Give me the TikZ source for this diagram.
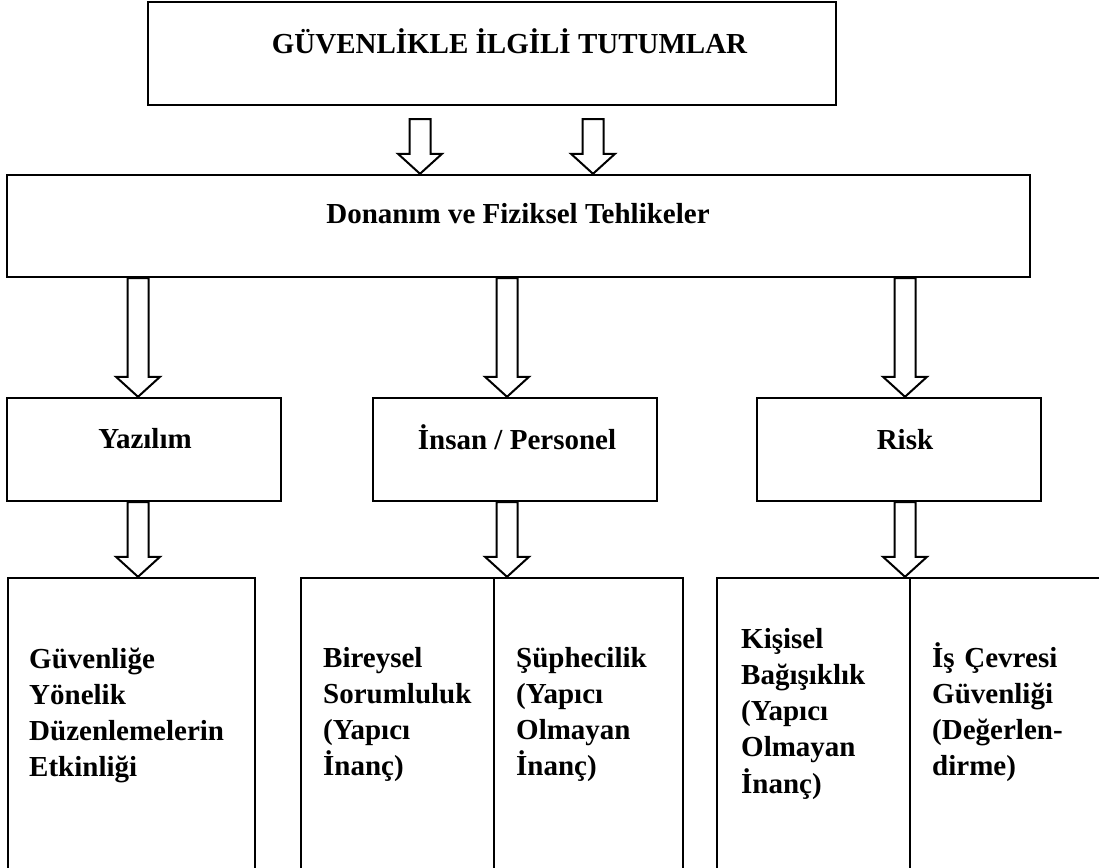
\documentclass[tikz,border=0pt]{standalone}
\usepackage{fontspec}
\setmainfont{Liberation Serif}
\usetikzlibrary{calc}

% hollow block arrow from a start point (shaft top) down to a tip point
\newcommand\blockarrow[2]{%
  \draw[arrowline] let \p1=#1, \p2=#2 in
    (\x2-10.5pt,\y1) -- (\x2-10.5pt,\y2+20pt) -- (\x2-22pt,\y2+20pt) --
    (\x2,\y2) -- (\x2+22pt,\y2+20pt) -- (\x2+10.5pt,\y2+20pt) --
    (\x2+10.5pt,\y1) -- cycle;}

\begin{document}
\begin{tikzpicture}[x=1pt,y=-1pt,
  box/.style={draw,line width=2.4pt,inner sep=0pt,rectangle},
  lbl/.style={anchor=base,inner sep=0pt,font=\bfseries\fontsize{29}{36.3}\selectfont},
  para/.style={anchor=base west,inner sep=0pt,align=left,text width=215pt,
    font=\bfseries\fontsize{29}{36.3}\selectfont},
  arrowline/.style={draw,line width=2pt,fill=white,line join=miter}]
\useasboundingbox (0,0) rectangle (1099,867);
\clip (0,0) rectangle (1099,867);

% columns of the arrows
\path (420,0) coordinate (xa) (593,0) coordinate (xb)
      (138,0) coordinate (xc) (507,0) coordinate (xd) (905,0) coordinate (xe);

% top level
\node[box,minimum width=688pt,minimum height=103pt] (top) at (492,53.5) {};
\node[lbl] (toptext) at (509.5,54) {GÜVENLİKLE İLGİLİ TUTUMLAR};

% second level
\node[box,minimum width=1023pt,minimum height=102pt] (mid) at (518.5,226) {};
\node[lbl] (midtext) at (518,223) {Donanım ve Fiziksel Tehlikeler};

% third level
\node[box,minimum width=274pt,minimum height=103pt] (yaz) at (144,449.5) {};
\node[lbl] (yaztext) at (145,448) {Yazılım};
\node[box,minimum width=284pt,minimum height=103pt] (ins) at (515,449.5) {};
\node[lbl] (instext) at (517,449) {İnsan / Personel};
\node[box,minimum width=284pt,minimum height=103pt] (risk) at (899,449.5) {};
\node[lbl] (risktext) at (905,449) {Risk};

% bottom level
\node[box,minimum width=247pt,minimum height=322pt] (botA) at (131.5,739) {};
\node[box,minimum width=193pt,minimum height=322pt] (botB1) at (397.5,739) {};
\node[box,minimum width=189pt,minimum height=322pt] (botB2) at (588.5,739) {};
\node[box,minimum width=193pt,minimum height=322pt] (botC1) at (813.5,739) {};
\node[box,minimum width=200pt,minimum height=322pt] (botC2) at (1010,739) {};

\node[para] (tA) at (29,668) {Güvenliğe\\Yönelik\\Düzenlemelerin\\Etkinliği};
\node[para] (tB1) at (323,667) {Bireysel\\Sorumluluk\\(Yapıcı\\İnanç)};
\node[para] (tB2) at (516,667) {Şüphecilik\\(Yapıcı\\Olmayan\\İnanç)};
\node[para] (tC1) at (741,648) {Kişisel\\Bağışıklık\\(Yapıcı\\Olmayan\\İnanç)};
\node[para] (tC2) at (932,667) {İş Çevresi\\Güvenliği\\(Değerlen-\\dirme)};

% arrows
\blockarrow{([yshift=-13pt]top.south -| xa)}{(mid.north -| xa)}
\blockarrow{([yshift=-13pt]top.south -| xb)}{(mid.north -| xb)}
\blockarrow{(mid.south -| xc)}{(yaz.north -| xc)}
\blockarrow{(mid.south -| xd)}{(ins.north -| xd)}
\blockarrow{(mid.south -| xe)}{(risk.north -| xe)}
\blockarrow{(yaz.south -| xc)}{(botA.north -| xc)}
\blockarrow{(ins.south -| xd)}{(botB1.north -| xd)}
\blockarrow{(risk.south -| xe)}{(botC1.north -| xe)}
\end{tikzpicture}
\end{document}
